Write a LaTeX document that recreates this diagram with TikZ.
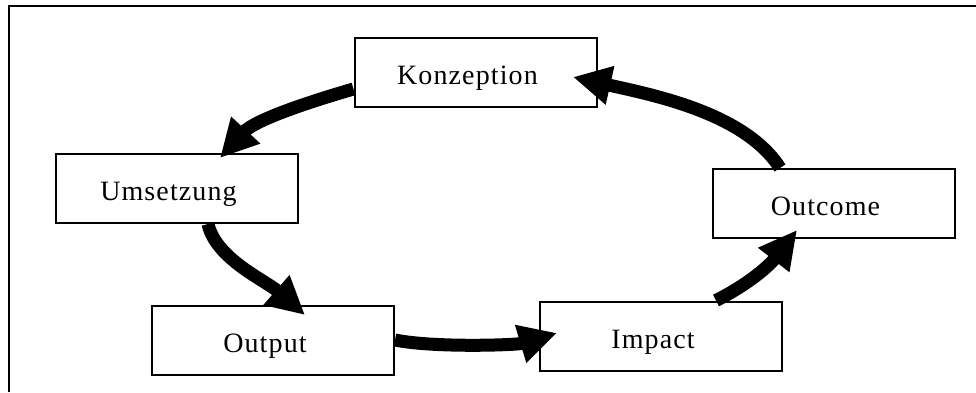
\documentclass[tikz,border=0pt]{standalone}
\usepackage{fontspec}
\setmainfont{Liberation Serif}[LetterSpace=4]
\usetikzlibrary{arrows.meta,calc}

\begin{document}
\begin{tikzpicture}[x=0.5pt,y=-0.5pt,
		box/.style={draw,line width=1pt,fill=white,minimum width=121pt,minimum height=34.5pt,inner sep=0pt,
			text height=15pt,text depth=3pt,font=\fontsize{14}{16}\selectfont,execute at begin node={\hspace*{-8pt}}},
		flow/.style={line width=6.5pt,-{Triangle[length=19pt,width=18.5pt]}}]
				\useasboundingbox (0,0) rectangle (976,392);
				\draw[line width=1pt] (9,392) -- (9,5.5) -- (976,5.5);
				\node[box] (konz) at (475.5,72.5) {Konzeption};
				\node[box] (ums) at (176.5,188.5) {Umsetzung};
				\node[box] (outp) at (273,340) {Output};
				\node[box] (imp) at (661,336) {Impact};
				\node[box] (outc) at (833.5,203.5) {Outcome};
				\draw[flow] ($(konz.west)+(0,16.5)$) .. controls +(-45,13) and +(35,-38) .. ($(ums.north)+(43.5,5)$);
				\draw[flow] ($(ums.south)+(31.5,0)$) .. controls +(8,35) and +(-40,-35) .. ($(outp.north)+(32,10.5)$);
				\draw[flow] (outp.east) .. controls +(40,8) and +(-40,12) .. ($(imp.west)+(18,-3)$);
				\draw[flow] ($(imp.north)+(55,0)$) .. controls +(32,-16) and +(-28,36) .. ($(outc.south)+(-36.5,-9)$);
				\draw[flow] ($(outc.north)+(-53.5,0)$) .. controls +(-35,-55) and +(80,18) .. ($(konz.east)+(-24.5,4.5)$);
			\end{tikzpicture}
\end{document}
